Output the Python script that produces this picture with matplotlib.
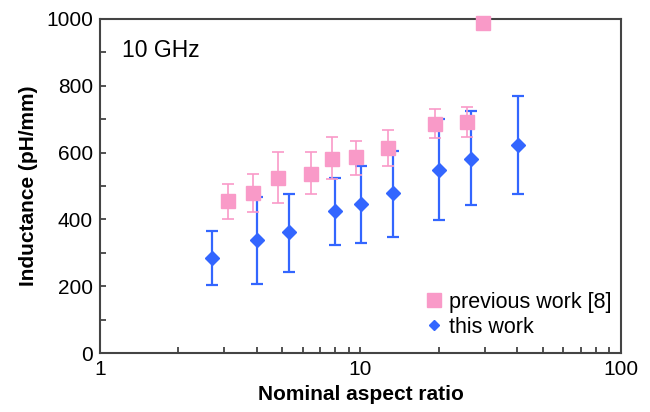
import matplotlib
matplotlib.use('Agg')
from matplotlib import pyplot as plt
from matplotlib.lines import Line2D
from matplotlib.ticker import MultipleLocator, LogLocator, NullFormatter

plt.rcParams['font.family'] = ['Liberation Sans', 'DejaVu Sans']

# previous work [8]
prev_x = [3.11, 3.86, 4.84, 6.46, 7.75, 9.61, 12.8, 19.3, 25.7, 29.6]
prev_y = [456, 480, 523, 536, 581, 586, 615, 687, 692, 988]
prev_hi = [505, 537, 601, 601, 647, 634, 667, 731, 736, 988]
prev_lo = [401, 423, 448, 477, 520, 533, 561, 644, 648, 988]

# this work
this_x = [2.68, 4.0, 5.33, 8.0, 10.04, 13.3, 19.96, 26.6, 40.2]
this_y = [284, 337, 362, 426, 447, 479, 548, 582, 622]
this_hi = [366, 468, 475, 523, 561, 606, 700, 724, 769]
this_lo = [203, 207, 243, 324, 328, 348, 398, 444, 476]

pink = '#f99ac8'
blue = '#3366ff'

fig = plt.figure(figsize=(6.5, 4.12), dpi=100)
ax = fig.add_axes([0.1538, 0.1432, 0.8016, 0.8107])

err_prev = [[y - l for y, l in zip(prev_y, prev_lo)], [h - y for y, h in zip(prev_y, prev_hi)]]
err_this = [[y - l for y, l in zip(this_y, this_lo)], [h - y for y, h in zip(this_y, this_hi)]]

ax.errorbar(this_x, this_y, yerr=err_this, fmt='D', color=blue, ms=7,
            ecolor=blue, elinewidth=1.6, capsize=4.2, capthick=1.6, zorder=3)
eb = ax.errorbar(prev_x, prev_y, yerr=err_prev, fmt='s', color=pink, ms=9.5,
                 ecolor=pink, elinewidth=1.2, capsize=4.5, capthick=1.2, zorder=4)
eb[0].set_clip_on(False)

ax.set_xscale('log')
ax.set_xlim(1, 100)
ax.set_ylim(0, 1000)
ax.yaxis.set_major_locator(MultipleLocator(200))
ax.yaxis.set_minor_locator(MultipleLocator(100))
ax.xaxis.set_minor_locator(LogLocator(base=10, subs=range(2, 10)))
ax.xaxis.set_minor_formatter(NullFormatter())
ax.set_xticks([1, 10, 100])
ax.set_xticklabels(['1', '10', '100'])

ax.tick_params(which='both', direction='in', length=4, width=1.2, color='#333333',
               top=False, right=False, labelsize=15, pad=5)

for s in ax.spines.values():
    s.set_color('#444444')
    s.set_linewidth(1.5)

ax.set_xlabel('Nominal aspect ratio', fontsize=15, fontweight='bold', labelpad=4)
ax.set_ylabel('Inductance (pH/mm)', fontsize=15, fontweight='bold', labelpad=6)

ax.text(0.042, 0.905, '10 GHz', transform=ax.transAxes, fontsize=16.5, va='center')

handles = [Line2D([], [], ls='none', marker='s', color=pink, ms=9.5),
           Line2D([], [], ls='none', marker='D', color=blue, ms=5)]
ax.legend(handles, ['previous work [8]', 'this work'], loc='lower right',
          bbox_to_anchor=(1.01, 0.0), frameon=False, fontsize=15.5,
          handlelength=0.8, handletextpad=0.3, labelspacing=0.2, borderaxespad=0.3)

fig.savefig('out.png', dpi=100)
